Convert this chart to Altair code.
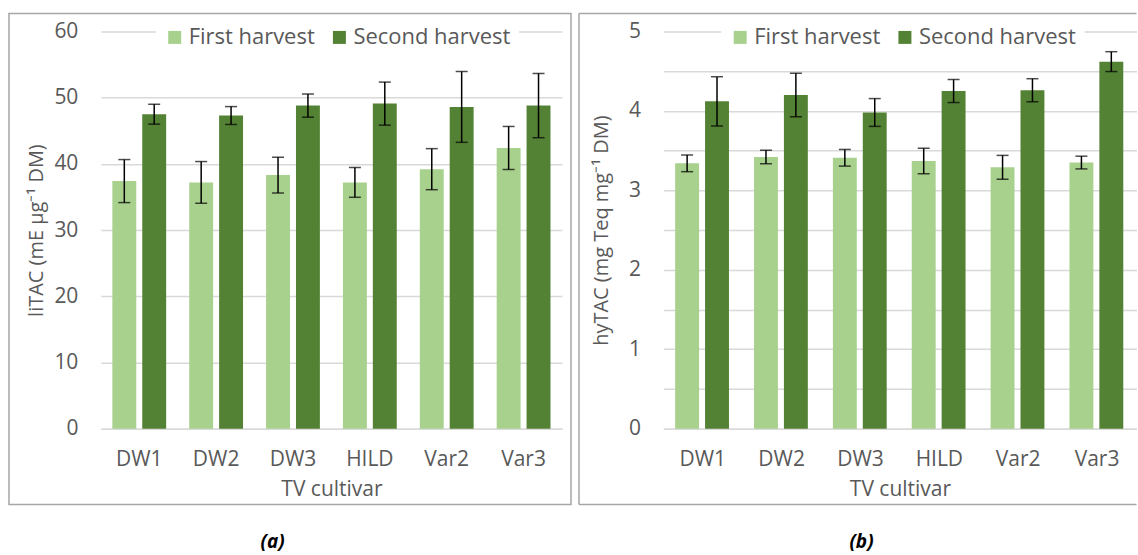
import altair as alt
import pandas as pd

cultivars = ["DW1", "DW2", "DW3", "HILD", "Var2", "Var3"]
harvests = ["First harvest", "Second harvest"]
colors = ["#a9d18e", "#548235"]

li_first = [37.4, 37.2, 38.3, 37.2, 39.2, 42.4]
li_first_err = [3.25, 3.15, 2.7, 2.25, 3.1, 3.25]
li_second = [47.5, 47.3, 48.8, 49.1, 48.6, 48.8]
li_second_err = [1.5, 1.35, 1.75, 3.25, 5.35, 4.85]

hy_first = [3.34, 3.42, 3.41, 3.37, 3.29, 3.35]
hy_first_err = [0.105, 0.085, 0.105, 0.16, 0.15, 0.08]
hy_second = [4.12, 4.20, 3.98, 4.25, 4.26, 4.62]
hy_second_err = [0.31, 0.275, 0.175, 0.145, 0.145, 0.125]

li_ticks = [0, 10, 20, 30, 40, 50, 60]
hy_ticks = [0, 0.5, 1, 1.5, 2, 2.5, 3, 3.5, 4, 4.5, 5]

FONT = "Open Sans"
GREY = "#595959"
GRID = "#d9d9d9"
BORDER = "#a6a6a6"


def make_df(first, first_err, second, second_err):
    rows = []
    for h, vals, errs in [(harvests[0], first, first_err), (harvests[1], second, second_err)]:
        for c, v, e in zip(cultivars, vals, errs):
            rows.append({"cultivar": c, "harvest": h, "value": v, "lo": v - e, "hi": v + e})
    return pd.DataFrame(rows)


one = pd.DataFrame({"k": [0]})


def panel(df, ytitle, ydomain, yvalues, label_expr, title_pad, width, height, leg_x,
          caption, cap_x, border):
    x = alt.X("cultivar:N", sort=cultivars, title="TV cultivar",
              scale=alt.Scale(paddingInner=0.3, paddingOuter=0.15),
              axis=alt.Axis(labelAngle=0, ticks=False, domainColor=GRID, domainWidth=1.5,
                            labelPadding=20, titlePadding=9, labelFontSize=21, titleFontSize=21,
                            labelColor=GREY, titleColor=GREY, titleFontWeight="normal",
                            labelFont=FONT, titleFont=FONT))
    xo = alt.XOffset("harvest:N", sort=harvests, scale=alt.Scale(paddingInner=0.2, paddingOuter=0))
    yscale = alt.Scale(domain=ydomain, nice=False, zero=True)
    yaxis_kw = dict(values=yvalues, domain=False, ticks=False, grid=True, gridColor=GRID,
                    gridWidth=1.5, labelPadding=23, titlePadding=title_pad, labelFontSize=21,
                    titleFontSize=20, labelColor=GREY, titleColor=GREY,
                    titleFontWeight="normal", labelFont=FONT, titleFont=FONT)
    if label_expr:
        yaxis_kw["labelExpr"] = label_expr
    yaxis = alt.Axis(**yaxis_kw)

    def Y(field):
        return alt.Y(field, title=ytitle, scale=yscale, axis=yaxis)

    bars = alt.Chart(df).mark_bar().encode(
        x=x, xOffset=xo, y=Y("value:Q"),
        color=alt.Color("harvest:N", sort=harvests,
                        scale=alt.Scale(domain=harvests, range=colors),
                        legend=alt.Legend(orient="none", legendX=leg_x, legendY=-13,
                                          direction="horizontal", title=None,
                                          fillColor="white", padding=8,
                                          symbolType="square", symbolSize=169,
                                          symbolStrokeWidth=0, labelFontSize=22,
                                          labelFont=FONT, labelColor=GREY,
                                          labelOffset=3, columnPadding=13)),
    )
    rules = alt.Chart(df).mark_rule(color="black", strokeWidth=1.5).encode(
        x=x, xOffset=xo, y=Y("lo:Q"), y2="hi:Q")
    tick_lo = alt.Chart(df).mark_tick(color="black", size=12, thickness=1.5).encode(
        x=x, xOffset=xo, y=Y("lo:Q"))
    tick_hi = alt.Chart(df).mark_tick(color="black", size=12, thickness=1.5).encode(
        x=x, xOffset=xo, y=Y("hi:Q"))
    cap = alt.Chart(one).mark_text(text=caption, font=FONT, fontSize=19, fontStyle="italic",
                                   fontWeight="bold", color="black").encode(
        x=alt.value(cap_x), y=alt.value(511))
    return alt.layer(*border, bars, rules, tick_lo, tick_hi, cap).properties(width=width, height=height)


left_border = [alt.Chart(one).mark_rect(filled=False, stroke=BORDER, strokeWidth=1.5).encode(
    x=alt.value(-92), x2=alt.value(471), y=alt.value(-18), y2=alt.value(474))]

right_border = [
    alt.Chart(one).mark_rule(color=BORDER, strokeWidth=1.5).encode(
        x=alt.value(-84.5), x2=alt.value(474), y=alt.value(-18)),
    alt.Chart(one).mark_rule(color=BORDER, strokeWidth=1.5).encode(
        x=alt.value(-84.5), x2=alt.value(474), y=alt.value(474)),
    alt.Chart(one).mark_rule(color=BORDER, strokeWidth=1.5).encode(
        x=alt.value(-84.5), y=alt.value(-18), y2=alt.value(474)),
]

left = panel(make_df(li_first, li_first_err, li_second, li_second_err),
             "liTAC (mE µg⁻¹ DM)", [0, 60], li_ticks, None, 7, 462, 398, 55,
             "(a)", 172, left_border)
right = panel(make_df(hy_first, hy_first_err, hy_second, hy_second_err),
              "hyTAC (mg Teq mg⁻¹ DM)", [0, 5], hy_ticks,
              "datum.value % 1 == 0 ? format(datum.value, 'd') : ''", 17, 474, 398, 58,
              "(b)", 198.5, right_border)

chart = alt.hconcat(left, right, spacing=101.5, bounds="flush").resolve_scale(
    color="independent").resolve_legend(color="independent").configure_view(
    stroke=None).properties(padding={"left": 8, "top": 12, "right": 0, "bottom": 2},
                            background="white")

chart.save("out.html", embed_options={"renderer": "svg", "actions": False})
